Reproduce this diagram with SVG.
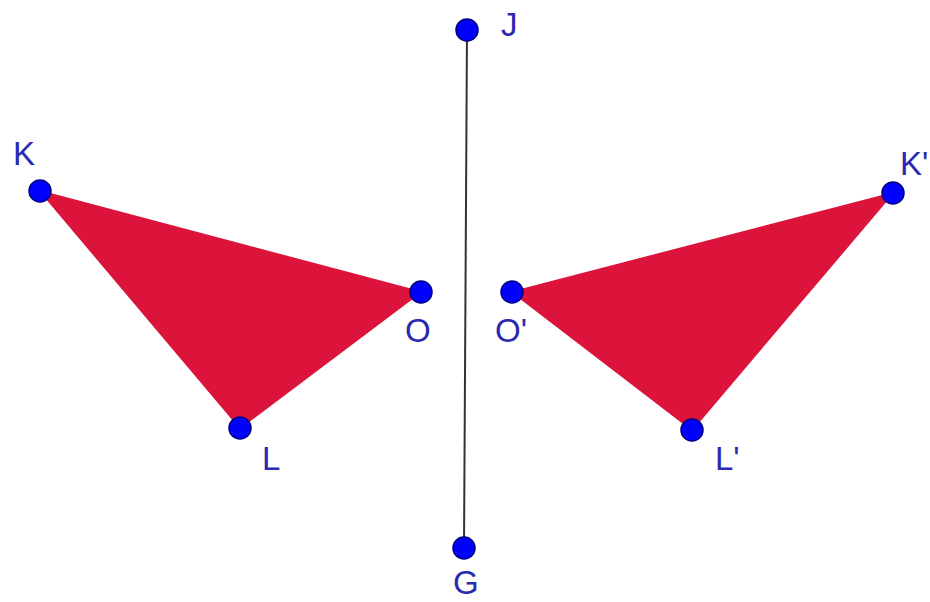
<svg xmlns="http://www.w3.org/2000/svg" width="930" height="602" viewBox="0 0 930 602">
<style>
.tri{fill:#DC143C;stroke:#DC143C;stroke-width:1.5;stroke-linejoin:round}
.pt{fill:#0000FF;stroke:#000080;stroke-width:1.5}
.lbl{font-family:"Liberation Sans",Arial,sans-serif;font-size:33px;fill:#2a2ab0}
.seg{stroke:#333;stroke-width:2;fill:none}
</style>
<rect width="930" height="602" fill="#fff"/>
<g id="connectors">
<line class="seg" x1="467" y1="30" x2="464" y2="548"/>
</g>
<g id="triangle-KLO"><polygon class="tri" points="40,191 240,428 421,292"/></g>
<g id="triangle-KLO-prime"><polygon class="tri" points="893,193 692,430 512,292"/></g>
<g id="node-J"><circle class="pt" cx="467" cy="30" r="11"/><text class="lbl" x="501" y="36">J</text></g>
<g id="node-G"><circle class="pt" cx="464" cy="548" r="11"/><text class="lbl" x="453" y="594">G</text></g>
<g id="node-K"><circle class="pt" cx="40" cy="191" r="11"/><text class="lbl" x="13" y="165">K</text></g>
<g id="node-L"><circle class="pt" cx="240" cy="428" r="11"/><text class="lbl" x="262" y="470">L</text></g>
<g id="node-O"><circle class="pt" cx="421" cy="292" r="11"/><text class="lbl" x="405" y="342">O</text></g>
<g id="node-Kp"><circle class="pt" cx="893" cy="193" r="11"/><text class="lbl" x="900" y="175">K'</text></g>
<g id="node-Lp"><circle class="pt" cx="692" cy="430" r="11"/><text class="lbl" x="715" y="470">L'</text></g>
<g id="node-Op"><circle class="pt" cx="512" cy="292" r="11"/><text class="lbl" x="495" y="342">O'</text></g>
</svg>
